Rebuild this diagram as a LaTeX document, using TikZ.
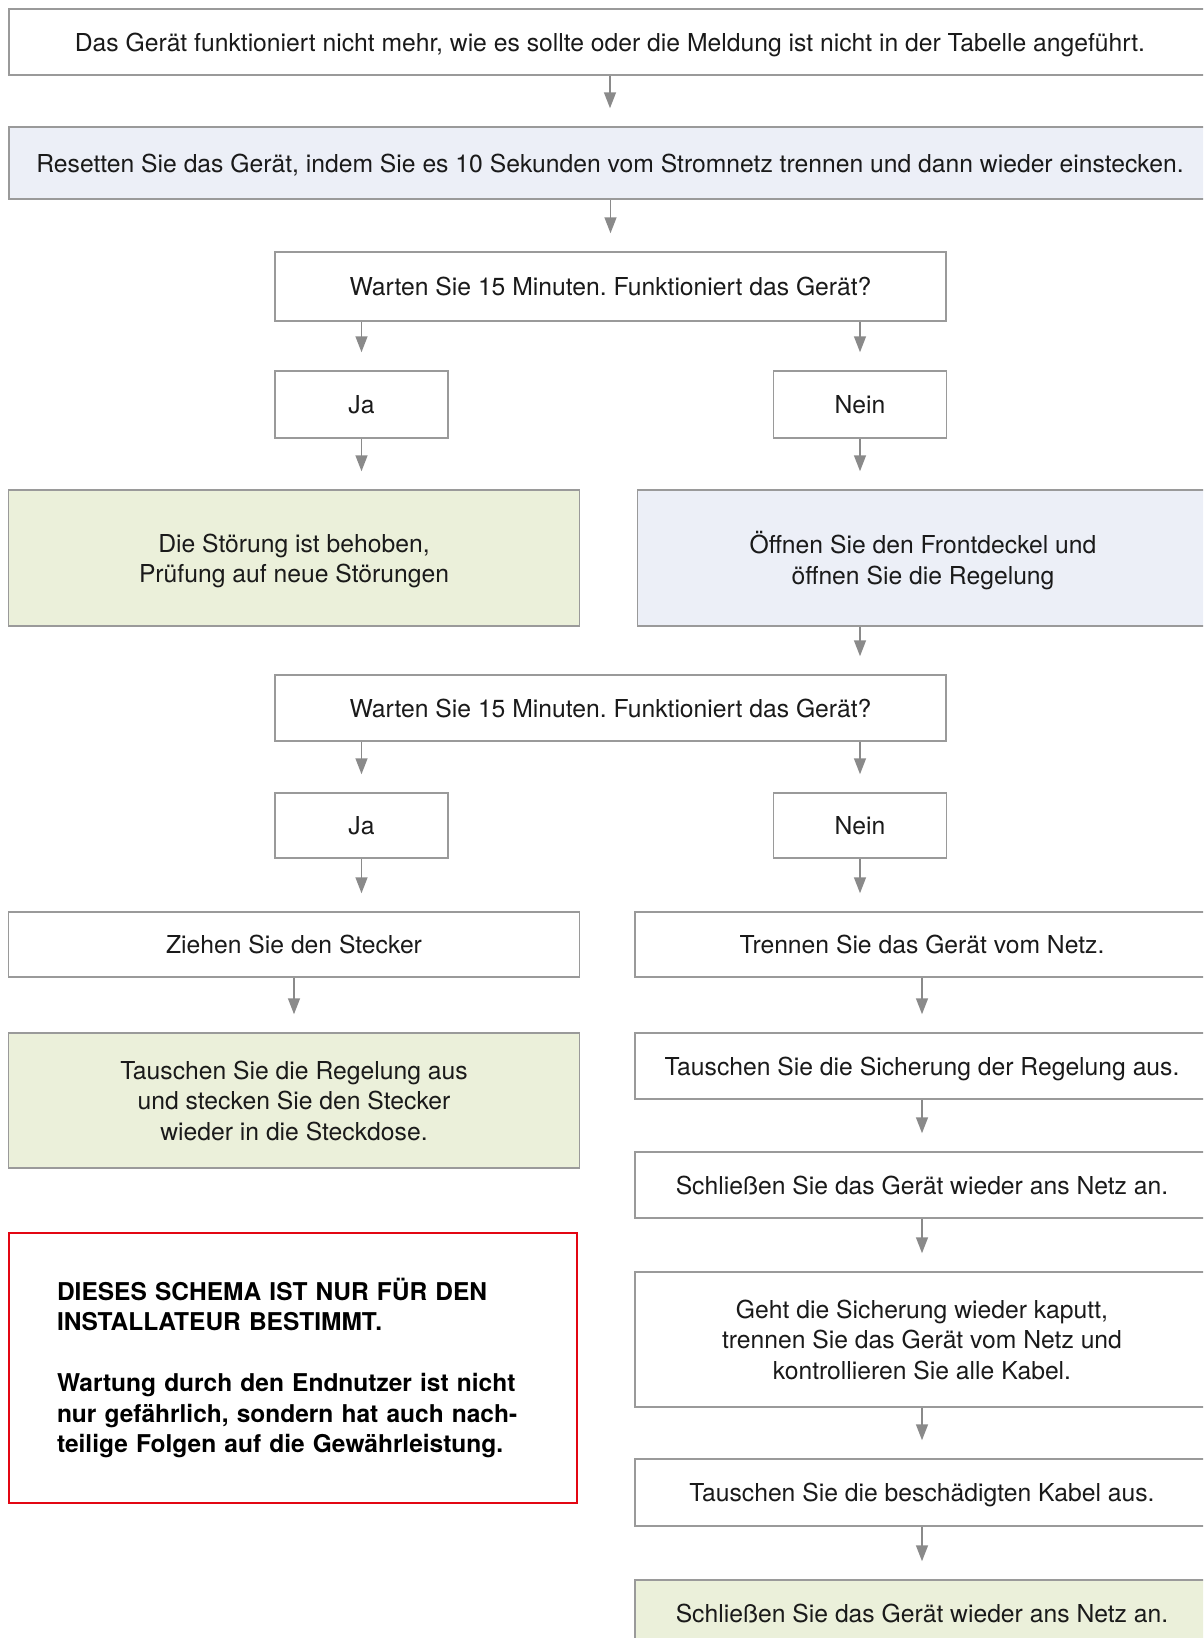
\documentclass[tikz,border=0pt]{standalone}
\usepackage{fontspec}
\setmainfont{TeX Gyre Heros}
\usetikzlibrary{arrows.meta}
\definecolor{boxgray}{HTML}{9A9A9A}
\definecolor{arrgray}{HTML}{8A8A8A}
\definecolor{lightgreen}{HTML}{EBF0DA}
\definecolor{lightblue}{HTML}{ECEFF7}
\definecolor{warnred}{HTML}{E30613}
\definecolor{txt}{HTML}{1A1A1A}
\frenchspacing

\begin{document}
\begin{tikzpicture}[x=1pt,y=-1pt,
    box/.style={draw=boxgray, line width=1.5pt, fill=white, inner sep=0pt, align=center,
        text=txt, font=\fontsize{24.7}{30.3}\selectfont, text depth=0pt, minimum height=66pt},
    full/.style={box, minimum width=1202pt},
    mid/.style={box, minimum width=671pt},
    small/.style={box, minimum width=173pt},
    half/.style={box, minimum width=571pt},
    tall/.style={minimum height=136pt},
    green/.style={fill=lightgreen},
    blue/.style={fill=lightblue},
    warnbox/.style={draw=warnred, line width=2pt, inner sep=0pt, minimum width=568pt,
        minimum height=270pt, text width=472pt, align=left, text=black,
        font=\fontsize{24.5}{30.5}\selectfont\bfseries},
    arr/.style={draw=arrgray, line width=1.5pt, -{Triangle[length=16pt,width=12pt]}, shorten >=18pt}]
    \useasboundingbox (0,0) rectangle (1203,1638);
    \clip (0,0) rectangle (1203,1638);
    \node[full] (start) at (610,42) {Das Gerät funktioniert nicht mehr, wie es sollte oder die Meldung ist nicht in der Tabelle angeführt.};
    \node[full, blue, minimum height=72pt] (reset) at (610,163) {Resetten Sie das Gerät, indem Sie es 10 Sekunden vom Stromnetz trennen und dann wieder einstecken.};
    \node[mid, minimum height=69pt] (warten1) at (610.5,286.5) {Warten Sie 15 Minuten. Funktioniert das Gerät?};
    \node[small, minimum height=67pt] (ja1) at (361.5,404.5) {Ja};
    \node[small, minimum height=67pt] (nein1) at (860,404.5) {Nein};
    \node[half, green, tall] (behoben) at (294,558) {Die Störung ist behoben,\\Prüfung auf neue Störungen};
    \node[half, blue, tall] (oeffnen) at (923,558) {Öffnen Sie den Frontdeckel und\\öffnen Sie die Regelung};
    \node[mid] (warten2) at (610.5,708) {Warten Sie 15 Minuten. Funktioniert das Gerät?};
    \node[small, minimum height=65pt] (ja2) at (361.5,825.5) {Ja};
    \node[small, minimum height=65pt] (nein2) at (860,825.5) {Nein};
    \node[half, minimum height=65pt] (ziehen) at (294,944.5) {Ziehen Sie den Stecker};
    \node[half, green, minimum height=135pt] (regelung) at (294,1100.5) {Tauschen Sie die Regelung aus\\und stecken Sie den Stecker\\wieder in die Steckdose.};
    \node[half, minimum width=574pt, minimum height=65pt] (trennen) at (922,944.5) {Trennen Sie das Gerät vom Netz.};
    \node[half, minimum width=574pt] (sicherung) at (922,1066) {Tauschen Sie die Sicherung der Regelung aus.};
    \node[half, minimum width=574pt] (anschluss1) at (922,1185) {Schließen Sie das Gerät wieder ans Netz an.};
    \node[half, minimum width=574pt, minimum height=135pt] (kaputt) at (922,1339.5) {Geht die Sicherung wieder kaputt,\\trennen Sie das Gerät vom Netz und\\kontrollieren Sie alle Kabel.};
    \node[half, minimum width=574pt, minimum height=67pt] (kabel) at (922,1492.5) {Tauschen Sie die beschädigten Kabel aus.};
    \node[half, green, minimum width=574pt] (anschluss2) at (922,1613) {Schließen Sie das Gerät wieder ans Netz an.};
    \node[warnbox] (warnung) at (293,1368) {DIESES SCHEMA IST NUR FÜR DEN\\INSTALLATEUR BESTIMMT.\\[30.5pt]Wartung durch den Endnutzer ist nicht\\nur gefährlich, sondern hat auch nach-\\teilige Folgen auf die Gewährleistung.};
    \draw[arr] (start) -- (reset);
    \draw[arr] (reset.south -| warten1) -- (warten1);
    \draw[arr] (warten1.south -| ja1) -- (ja1);
    \draw[arr] (warten1.south -| nein1) -- (nein1);
    \draw[arr] (ja1) -- (ja1 |- behoben.north);
    \draw[arr] (nein1) -- (nein1 |- oeffnen.north);
    \draw[arr] (oeffnen.south -| nein1) -- (nein1 |- warten2.north);
    \draw[arr] (warten2.south -| ja2) -- (ja2);
    \draw[arr] (warten2.south -| nein2) -- (nein2);
    \draw[arr] (ja2) -- (ja2 |- ziehen.north);
    \draw[arr] (nein2) -- (nein2 |- trennen.north);
    \draw[arr] (ziehen) -- (regelung);
    \foreach \a/\b in {trennen/sicherung,sicherung/anschluss1,anschluss1/kaputt,kaputt/kabel,kabel/anschluss2}
        \draw[arr] (\a) -- (\b);
\end{tikzpicture}
\end{document}
